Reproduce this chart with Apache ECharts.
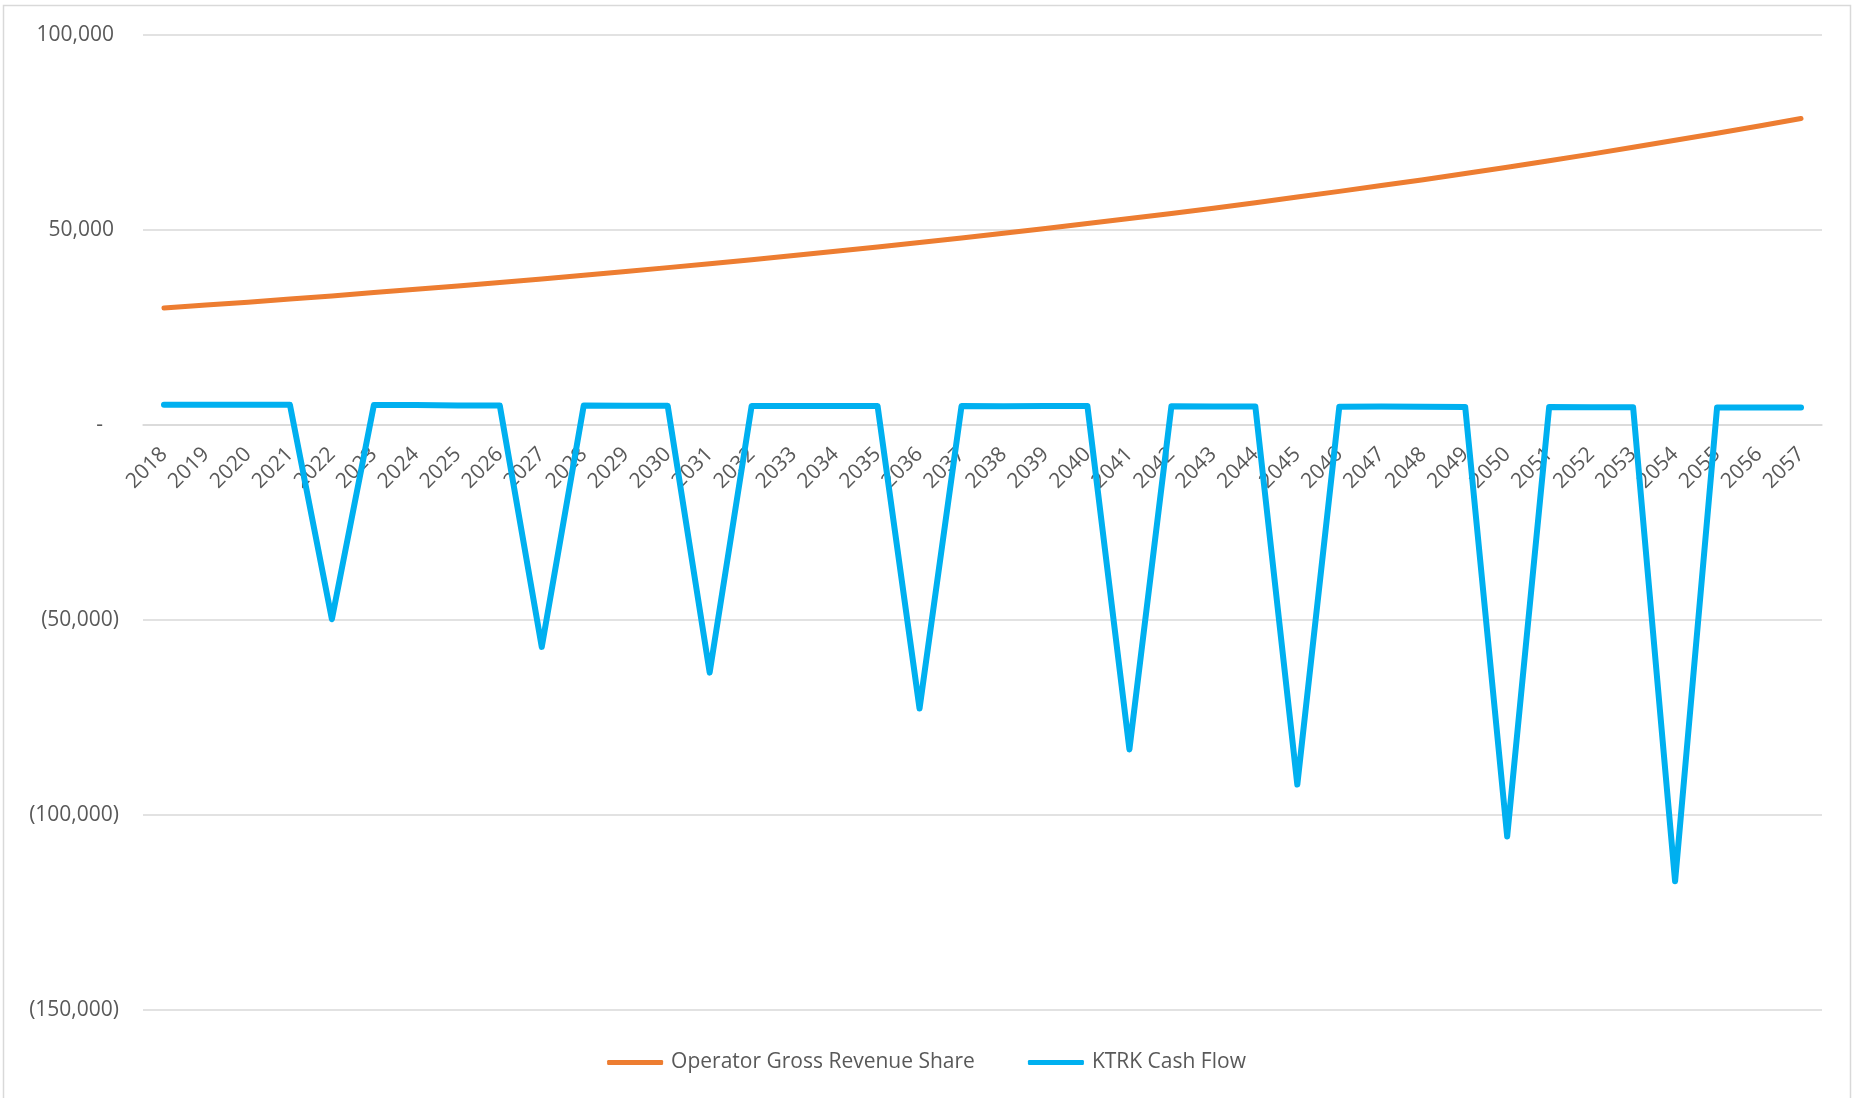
<!DOCTYPE html>
<html>
<head>
<meta charset="utf-8">
<script src="https://cdn.jsdelivr.net/npm/echarts@6/dist/echarts.min.js"></script>
<style>
  html, body { margin: 0; padding: 0; background: #fff; }
  #chart { width: 1853px; height: 1098px; }
</style>
</head>
<body>
<div id="chart"></div>
<script>
// years on the x axis
const years = [];
for (let y = 2018; y <= 2057; y++) years.push(String(y));

// Operator Gross Revenue Share
const operatorShare = [
  30000, 30750, 31500, 32300, 33100, 33950, 34800, 35650, 36550, 37450,
  38400, 39350, 40350, 41350, 42400, 43450, 44550, 45650, 46800, 47950,
  49150, 50400, 51650, 52950, 54250, 55600, 57000, 58450, 59900, 61400,
  62900, 64500, 66100, 67750, 69450, 71200, 73000, 74800, 76650, 78600
];

// KTRK Cash Flow
const ktrkCashFlow = [
  5200, 5200, 5200, 5200, -49800, 5100, 5100, 5000, 5000, -56900,
  5000, 4950, 4950, -63500, 4900, 4900, 4900, 4900, -72700, 4850,
  4800, 4850, 4850, -83200, 4800, 4750, 4750, -92200, 4650, 4750,
  4650, 4600, -105500, 4600, 4550, 4550, -117000, 4500, 4500, 4500
];

const yTicks = { min: -150000, max: 100000, step: 50000 };

const FONT = '"Open Sans", sans-serif';
const GREY = '#595959';

let fmt = (v) => v.toLocaleString('en-US');

let mychart = echarts.init(document.getElementById('chart'));

// grid box, the category axis sits on the zero line
const gridTop = 35, gridBottom = 88, chartH = 1098;
const plotH = chartH - gridTop - gridBottom;
const zeroOffset = -plotH * (0 - yTicks.min) / (yTicks.max - yTicks.min);

let option = {
  animation: false,
  textStyle: { fontFamily: FONT },
  graphic: [
    {
      type: 'rect',
      shape: { x: 3.5, y: 5.5, width: 1847, height: 1110 },
      style: { fill: 'none', stroke: '#d9d9d9', lineWidth: 1.5 },
      silent: true
    }
  ],
  color: ['#ED7D31', '#00B0F0'],
  grid: {
    left: 143,
    right: 31,
    top: gridTop,
    bottom: gridBottom
  },
  legend: {
    left: 'center',
    top: 1047,
    icon: 'roundRect',
    itemWidth: 56,
    itemHeight: 5,
    itemGap: 53,
    textStyle: {
      fontFamily: FONT,
      fontSize: 21,
      color: GREY,
      padding: [0, 0, 0, 3]
    },
    data: ['Operator Gross Revenue Share', 'KTRK Cash Flow']
  },
  xAxis: {
    type: 'category',
    data: years,
    boundaryGap: true,
    offset: zeroOffset,
    axisTick: { show: false },
    axisLine: {
      onZero: false,
      lineStyle: { color: '#d9d9d9', width: 1.5 }
    },
    axisLabel: {
      interval: 0,
      rotate: 45,
      margin: 26,
      fontFamily: FONT,
      fontSize: 21,
      color: GREY
    }
  },
  yAxis: {
    type: 'value',
    min: yTicks.min,
    max: yTicks.max,
    interval: yTicks.step,
    axisLine: { show: false },
    axisTick: { show: false },
    splitLine: { lineStyle: { color: '#d9d9d9', width: 1.5 } },
    axisLabel: {
      margin: 24,
      fontFamily: FONT,
      fontSize: 21,
      color: GREY,
      formatter: (v) => {
        if (v === 0) return '{z|-}';
        if (v < 0) return '(' + fmt(-v) + ')';
        return '{p|' + fmt(v) + '}';
      },
      rich: {
        z: { fontFamily: FONT, fontSize: 21, color: GREY, padding: [0, 16, 0, 0] },
        p: { fontFamily: FONT, fontSize: 21, color: GREY, padding: [0, 5, 0, 0] }
      }
    }
  },
  series: [
    {
      name: 'Operator Gross Revenue Share',
      type: 'line',
      data: operatorShare,
      symbol: 'none',
      lineStyle: { width: 5, cap: 'round', join: 'round' }
    },
    {
      name: 'KTRK Cash Flow',
      type: 'line',
      data: ktrkCashFlow,
      symbol: 'none',
      lineStyle: { width: 6, cap: 'round', join: 'round' }
    }
  ]
};
mychart.setOption(option, true);
</script>
</body>
</html>
